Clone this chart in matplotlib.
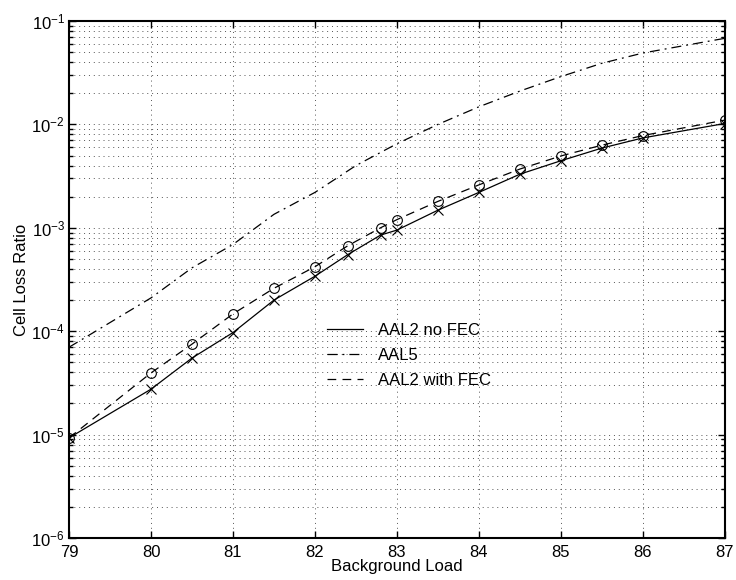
import numpy as np
from matplotlib import pyplot as plt
from matplotlib.ticker import LogLocator, NullFormatter

## STYLE ##
plt.rcParams['font.family'] = 'Liberation Sans'
plt.rcParams['mathtext.fontset'] = 'custom'
plt.rcParams['mathtext.rm'] = 'Liberation Sans'
plt.rcParams['mathtext.it'] = 'Liberation Sans:italic'
plt.rcParams['font.size'] = 12
plt.rcParams['axes.linewidth'] = 1.5
plt.rcParams['xtick.direction'] = 'in'
plt.rcParams['ytick.direction'] = 'in'

### DATA ##
load_aal2 = [79, 80, 80.5, 81, 81.5, 82, 82.4, 82.8, 83, 83.5, 84, 84.5, 85, 85.5, 86, 87]
clr_no_fec = [9.3e-6, 2.75e-5, 5.5e-5, 9.7e-5, 2.0e-4, 3.4e-4, 5.5e-4, 8.5e-4, 9.5e-4,
              1.48e-3, 2.2e-3, 3.3e-3, 4.45e-3, 5.9e-3, 7.4e-3, 1.02e-2]
clr_with_fec = [9.3e-6, 3.95e-5, 7.5e-5, 1.47e-4, 2.6e-4, 4.2e-4, 6.7e-4, 1.0e-3, 1.2e-3,
                1.8e-3, 2.6e-3, 3.7e-3, 4.95e-3, 6.3e-3, 7.8e-3, 1.1e-2]

load_aal5 = [79, 80, 80.5, 81, 81.5, 82, 82.5, 83, 83.5, 84, 84.5, 85, 85.5, 86, 87]
clr_aal5 = [7.0e-5, 2.1e-4, 4.1e-4, 6.9e-4, 1.35e-3, 2.2e-3, 4.0e-3, 6.5e-3, 1.0e-2,
            1.48e-2, 2.1e-2, 2.9e-2, 3.9e-2, 4.9e-2, 6.8e-2]

x_ticks = [79, 80, 81, 82, 83, 84, 85, 86, 87]


def make_plot():
    fig = plt.figure(figsize=(7.36, 5.8), dpi=100)
    ax = fig.add_axes([0.0938, 0.0724, 0.891, 0.8914])

    ax.semilogy(load_aal2, clr_no_fec, color='black', lw=0.9, ls='-', label='AAL2 no FEC')
    ax.semilogy(load_aal5, clr_aal5, color='black', lw=0.9, ls=(0, (8, 4, 1.5, 4)), label='AAL5')
    ax.semilogy(load_aal2, clr_with_fec, color='black', lw=0.9, ls=(0, (7, 5)), label='AAL2 with FEC')

    # markers, kept out of the legend
    ax.semilogy(load_aal2, clr_no_fec, ls='none', marker='x', ms=7, mew=0.8, color='black')
    ax.semilogy(load_aal2, clr_with_fec, ls='none', marker='o', ms=7, mew=0.8,
                mfc='none', mec='black')

    ax.set_xlim(79, 87)
    ax.set_ylim(1e-6, 1e-1)
    ax.set_xticks(x_ticks)
    ax.set_xticklabels([str(t) for t in x_ticks])
    ax.yaxis.set_minor_locator(LogLocator(base=10, subs=np.arange(2, 10)))
    ax.yaxis.set_minor_formatter(NullFormatter())
    ax.tick_params(which='both', top=True, right=True, labelsize=12, width=1.0)
    ax.tick_params(which='major', length=5)
    ax.tick_params(which='minor', length=3)
    ax.tick_params(axis='x', pad=5)
    ax.tick_params(axis='y', pad=3)

    ax.grid(True, which='major', ls=(0, (1, 4)), color='#555555', lw=0.7)
    ax.grid(True, which='minor', axis='y', ls=(0, (1, 4)), color='#555555', lw=0.7)

    ax.set_xlabel('Background Load', labelpad=-1)
    ax.set_ylabel('Cell Loss Ratio', labelpad=2)

    ax.legend(loc='upper left', bbox_to_anchor=(0.37, 0.445), frameon=False,
              handlelength=2.2, handletextpad=0.9, labelspacing=0.6, fontsize=12)

    fig.savefig('out.png', dpi=100)
    return fig


def main():
    make_plot()


if __name__ == "__main__":
    main()
